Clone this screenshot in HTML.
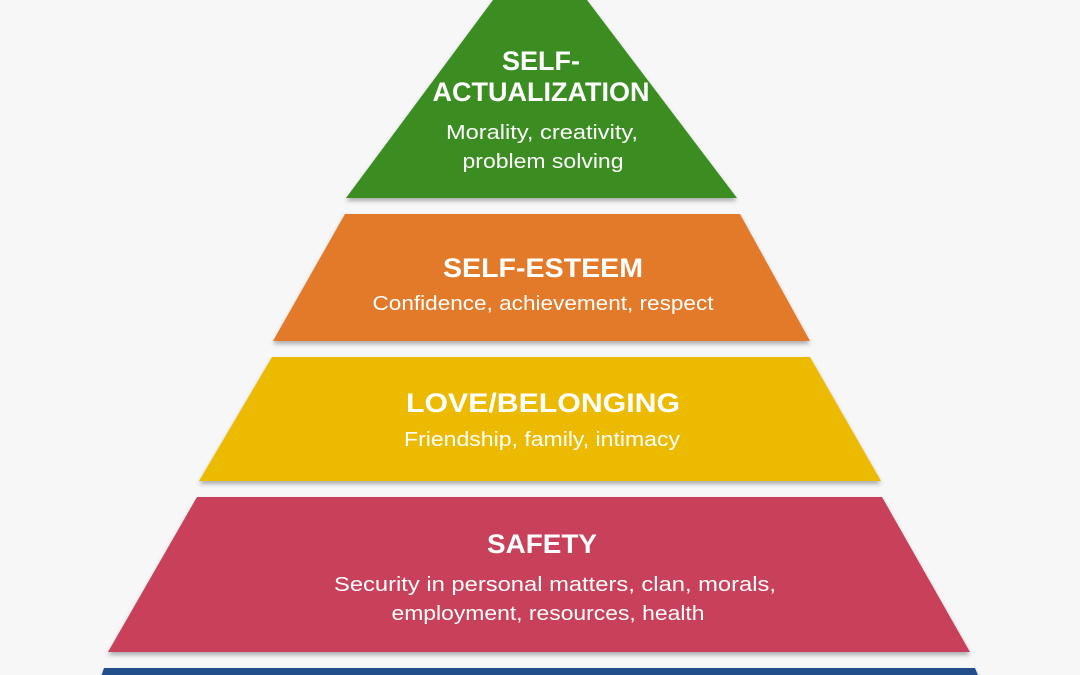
<!DOCTYPE html>
<html><head><meta charset="utf-8"><style>
html,body{margin:0;padding:0;background:#f7f7f7;}
svg{display:block}
text{font-family:"Liberation Sans",sans-serif;fill:#fff;text-anchor:middle}
.t{font-weight:bold;font-size:27px}
.s{font-size:20px}
</style></head><body>
<svg width="1080" height="675" viewBox="0 0 1080 675">
<defs><filter id="sh" x="-5%" y="-5%" width="110%" height="120%"><feDropShadow dx="0" dy="3" stdDeviation="2" flood-color="#000" flood-opacity="0.3"/></filter></defs>
<rect width="1080" height="675" fill="#f7f7f7"/>
<g filter="url(#sh)">
<polygon points="493,0 587,0 737,198 346,198" fill="#3a8d23"/>
<polygon points="345,214 740,214 810,341 273,341" fill="#e27a2c"/>
<polygon points="272,357 810,357 881,481 199,481" fill="#ecba00"/>
<polygon points="197,497 882,497 970,652 108,652" fill="#c8405a"/>
<polygon points="104,668 975,668 980,680 100,680" fill="#244f8b"/>
</g>
<text class="t" x="541" y="70">SELF-</text>
<text class="t" x="541" y="101">ACTUALIZATION</text>
<text class="s" x="542" y="139" textLength="192" lengthAdjust="spacingAndGlyphs">Morality, creativity,</text>
<text class="s" x="543" y="168" textLength="161" lengthAdjust="spacingAndGlyphs">problem solving</text>
<text class="t" x="543" y="277" textLength="200" lengthAdjust="spacingAndGlyphs">SELF-ESTEEM</text>
<text class="s" x="543" y="310" textLength="341" lengthAdjust="spacingAndGlyphs">Confidence, achievement, respect</text>
<text class="t" x="543" y="412" textLength="274" lengthAdjust="spacingAndGlyphs">LOVE/BELONGING</text>
<text class="s" x="542" y="446" textLength="276" lengthAdjust="spacingAndGlyphs">Friendship, family, intimacy</text>
<text class="t" x="542" y="553" textLength="110" lengthAdjust="spacingAndGlyphs">SAFETY</text>
<text class="s" x="555" y="591" textLength="442" lengthAdjust="spacingAndGlyphs">Security in personal matters, clan, morals,</text>
<text class="s" x="548" y="620" textLength="313" lengthAdjust="spacingAndGlyphs">employment, resources, health</text>
</svg>
</body></html>
